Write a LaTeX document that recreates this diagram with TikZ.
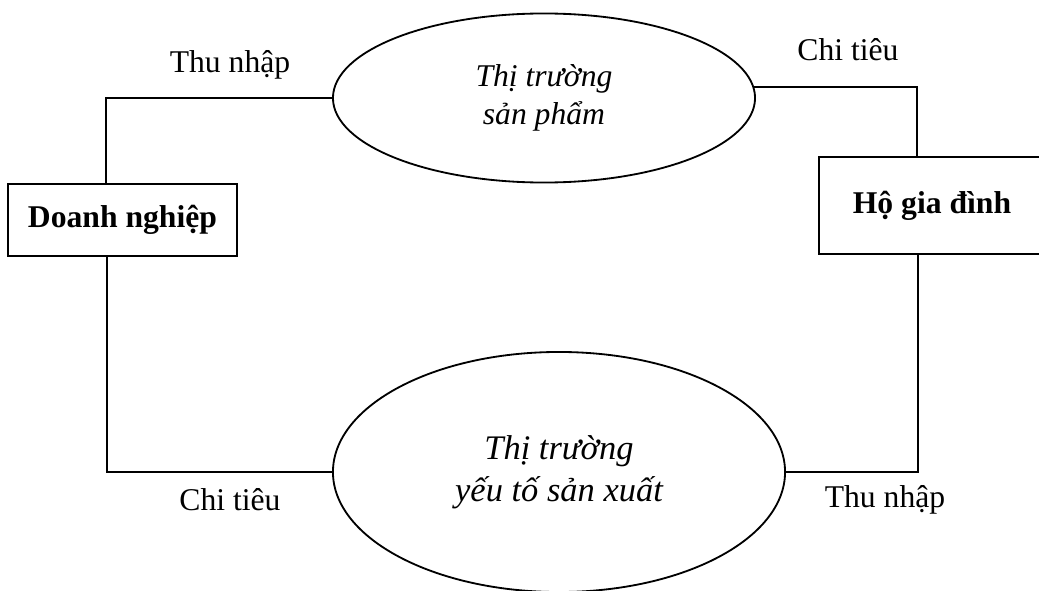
\documentclass[tikz,border=0pt]{standalone}
\usepackage{fontspec}
\setmainfont{Liberation Serif}
\usetikzlibrary{shapes.geometric}

\begin{document}
\begin{tikzpicture}[x=0.025cm, y=-0.025cm, line width=1.3pt,
    khoi/.style={draw, rectangle, inner sep=0pt, font=\fontsize{22.5}{26}\selectfont\bfseries},
    thitruong/.style={draw, ellipse, inner sep=0pt, align=center},
    nhan/.style={font=\fontsize{22.5}{26}\selectfont}]
    \useasboundingbox (0,0) rectangle (1039,591);

    % hai thi truong
    \node[thitruong, minimum width=10.55cm, minimum height=4.225cm,
      font=\fontsize{22.5}{26.5}\selectfont\itshape] (sp) at (544,98) {Thị trường\\sản phẩm};
    \node[thitruong, minimum width=11.3cm, minimum height=6cm,
      font=\fontsize{24.5}{30}\selectfont\itshape] (yt) at (559,472) {Thị trường\\yếu tố sản xuất};

    % hai khu vuc
    \node[khoi, minimum width=5.725cm, minimum height=1.8cm] (dn) at (122.5,220) {Doanh nghiệp};
    \node[khoi, minimum width=5.65cm, minimum height=2.425cm] (hgd) at (932,205.5) {Hộ gia đình};

    % cac dong tien
    \coordinate (tl) at (106,98);
    \coordinate (tr) at (917,85);
    \coordinate (bl) at (107,472);
    \coordinate (br) at (918,472);
    \draw (tl |- dn.north) -- (tl) -- (sp.west);
    \draw (sp.3.5) -- (sp.3.5 -| tr) -- (tr |- hgd.north);
    \draw (bl |- dn.south) -- (bl) -- (yt.west);
    \draw (br |- hgd.south) -- (br) -- (yt.east);

    \node[nhan] (tn1) at (230,65) {Thu nhập};
    \node[nhan] (ct1) at (848,50) {Chi tiêu};
    \node[nhan] (ct2) at (230,500) {Chi tiêu};
    \node[nhan] (tn2) at (885,500) {Thu nhập};
\end{tikzpicture}
\end{document}
